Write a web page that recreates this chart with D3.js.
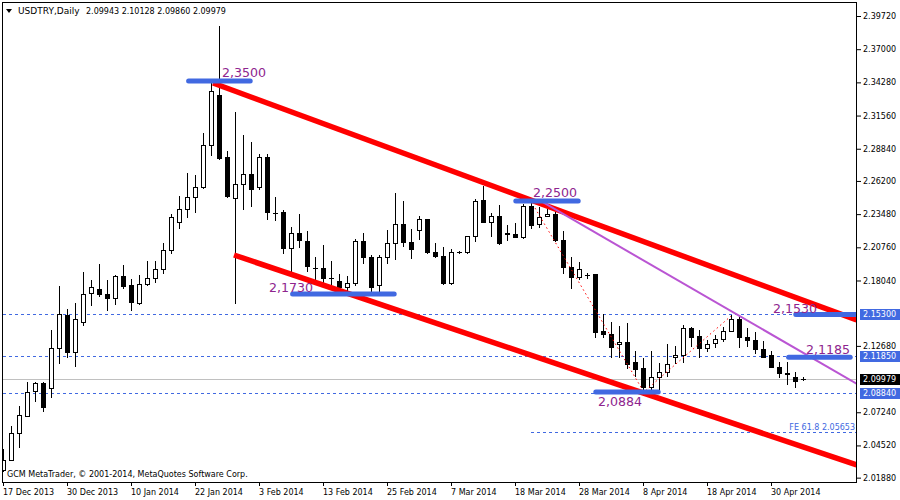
<!DOCTYPE html>
<html><head><meta charset="utf-8">
<script src="https://cdn.jsdelivr.net/npm/d3@7"></script>
<style>body{margin:0;background:#fff}svg{display:block;font-family:"DejaVu Sans",Verdana,sans-serif}</style>
</head><body><svg id="c" width="900" height="500"></svg>
<script>
// ---- data ----
const opens=[2.0254,2.0336,2.0557,2.0697,2.0902,2.0960,2.0919,2.1247,2.1518,2.1214,
2.1460,2.1698,2.1731,2.1690,2.1657,2.1838,2.1764,2.1616,2.1772,2.1821,
2.1895,2.2051,2.2281,2.2388,2.2486,2.2568,2.2913,2.3324,2.2815,2.2478,
2.2593,2.2675,2.2568,2.2815,2.2358,2.2363,2.2068,2.2191,2.2125,2.1906,
2.1904,2.1822,2.1797,2.1748,2.1780,2.2125,2.1994,2.1764,2.1994,2.2109,
2.2265,2.2117,2.2215,2.2306,2.2035,2.2002,2.1780,2.2035,2.2035,2.2166,
2.2462,2.2281,2.2330,2.2191,2.2183,2.2158,2.2412,2.2265,2.2330,2.2347,
2.2133,2.1912,2.1830,2.1846,2.1854,2.1387,2.1362,2.1280,2.1296,2.1132,
2.1083,2.0935,2.1017,2.1050,2.1173,2.1190,2.1411,2.1345,2.1247,2.1288,
2.1321,2.1387,2.1485,2.1337,2.1313,2.1239,2.1190,2.1099,2.1042,2.1009,
2.09943];
const highs=[2.0426,2.0615,2.0779,2.0968,2.0968,2.0968,2.1395,2.1756,2.1567,2.1616,
2.1871,2.1805,2.1936,2.1805,2.1846,2.1928,2.1813,2.1846,2.1961,2.1961,
2.2109,2.2347,2.2495,2.2683,2.2667,2.3012,2.3422,2.3890,2.2864,2.3184,
2.2995,2.2938,2.2839,2.2839,2.2486,2.2380,2.2240,2.2347,2.2207,2.1994,
2.2092,2.1961,2.1854,2.1838,2.2142,2.2191,2.2010,2.2010,2.2215,2.2519,
2.2453,2.2224,2.2330,2.2306,2.2109,2.2076,2.2060,2.2043,2.2166,2.2470,
2.2577,2.2355,2.2421,2.2257,2.2273,2.2429,2.2437,2.2404,2.2396,2.2363,
2.2207,2.1994,2.1953,2.1862,2.1854,2.1526,2.1460,2.1428,2.1452,2.1222,
2.1165,2.1222,2.1124,2.1280,2.1263,2.1436,2.1419,2.1395,2.1313,2.1354,
2.1419,2.1518,2.1502,2.1411,2.1378,2.1304,2.1230,2.1140,2.1132,2.1050,
2.10128];
const lows=[2.0246,2.0336,2.0443,2.0697,2.0820,2.0738,2.0845,2.1124,2.1173,2.1107,
2.1436,2.1600,2.1674,2.1559,2.1608,2.1739,2.1559,2.1608,2.1764,2.1789,
2.1862,2.2027,2.2232,2.2322,2.2363,2.2560,2.2831,2.2798,2.2486,2.1616,
2.2388,2.2412,2.2552,2.2306,2.2298,2.2027,2.1862,2.2076,2.1879,2.1805,
2.1789,2.1739,2.1723,2.1715,2.1764,2.1945,2.1707,2.1707,2.1945,2.1978,
2.2084,2.1986,2.2142,2.2027,2.1994,2.1772,2.1772,2.2027,2.2027,2.2125,
2.2281,2.2166,2.2101,2.2133,2.2158,2.2150,2.2232,2.2240,2.2330,2.2125,
2.1863,2.1739,2.1813,2.1821,2.1337,2.1337,2.1173,2.1181,2.1083,2.1025,
2.0866,2.0902,2.0902,2.1025,2.1124,2.1132,2.1263,2.1181,2.1222,2.1255,
2.1304,2.1387,2.1255,2.1263,2.1206,2.1173,2.1091,2.1017,2.0952,2.0927,
2.09860];
const closes=[2.0336,2.0557,2.0705,2.0894,2.0960,2.0763,2.1247,2.1526,2.1214,2.1485,
2.1690,2.1748,2.1690,2.1657,2.1838,2.1756,2.1624,2.1772,2.1821,2.1895,
2.2051,2.2322,2.2388,2.2486,2.2568,2.2913,2.3356,2.2806,2.2495,2.2593,
2.2675,2.2552,2.2815,2.2363,2.2355,2.2068,2.2191,2.2133,2.1920,2.1904,
2.1821,2.1821,2.1748,2.1780,2.2125,2.1994,2.1748,2.1994,2.2109,2.2265,
2.2117,2.2060,2.2306,2.2035,2.2002,2.1780,2.2035,2.2035,2.2166,2.2453,
2.2281,2.2330,2.2109,2.2183,2.2158,2.2412,2.2257,2.2322,2.2347,2.2133,
2.1912,2.1830,2.1895,2.1846,2.1378,2.1362,2.1255,2.1296,2.1116,2.1075,
2.0935,2.1009,2.1058,2.1116,2.1190,2.1411,2.1337,2.1247,2.1280,2.1321,
2.1387,2.1485,2.1337,2.1313,2.1239,2.1181,2.1099,2.1042,2.1034,2.0984,
2.09979];

const dateIdx=[0,8,16,24,32,40,48,56,64,72,80,88,96];
const dateLabels=["17 Dec 2013","30 Dec 2013","10 Jan 2014","22 Jan 2014","3 Feb 2014","13 Feb 2014",
"25 Feb 2014","7 Mar 2014","18 Mar 2014","28 Mar 2014","8 Apr 2014","18 Apr 2014","30 Apr 2014"];
const priceTicks=[2.3972,2.3700,2.3428,2.3156,2.2884,2.2620,2.2348,2.2076,2.1804,2.1268,2.0724,2.0452,2.0188];

const levelLines=[2.1530,2.1185,2.0884];          // dashed horizontal levels
const levelBoxes=[2.15300,2.11850,2.08840];
const currentPrice=2.09979;
const feLevel=2.05653, feStart=66;

// annotation segments: [i0, i1, price]
const supportSegs=[[23.2,30.9,2.3439],[36.2,48.9,2.1693],[64.1,71.9,2.2456],[99.1,106.8,2.1525],[98.2,105.9,2.1175],[74.1,81.9,2.0890]];
const supportLabels=["2,3500","2,1730","2,2500","2,1530","2,1185","2,0884"];
const labelIdx=[27.375,33.25,66.25,96.25,100.375,74.375];
const labelPrice=[2.3472,2.1710,2.2488,2.1538,2.1201,2.0775];

const channelUpper=[[26.25,2.3423],[106.7,2.1480]];
const channelLower=[[28.875,2.2013],[106.7,2.0292]];
const purpleLine=[[67,2.2464],[106.75,2.0956]];
const feDots=[[66.5,2.2398],[80.1,2.0890],[91,2.1513]];

// ---- scales ----
const svg=d3.select("#c");
const x=d3.scaleLinear().domain([0,100]).range([3,803]);
const y=d3.scaleLinear().domain([2.01523,2.40868]).range([482,2]);

svg.append("defs").append("clipPath").attr("id","clip")
  .append("rect").attr("x",3).attr("y",3).attr("width",853).attr("height",479);

const plot=svg.append("g").attr("clip-path","url(#clip)");

// level dashed lines
plot.selectAll(".lvl").data(levelLines).join("line")
  .attr("x1",3).attr("x2",856).attr("y1",d=>Math.round(y(d))+0.5).attr("y2",d=>Math.round(y(d))+0.5)
  .attr("stroke","#4169E1").attr("stroke-dasharray","3,3").attr("stroke-width",1);
// FE line
plot.append("line").attr("x1",x(feStart)).attr("x2",856)
  .attr("y1",Math.round(y(feLevel))+0.5).attr("y2",Math.round(y(feLevel))+0.5)
  .attr("stroke","#4169E1").attr("stroke-dasharray","3,3");
plot.append("text").attr("x",855).attr("y",y(feLevel)-2).attr("text-anchor","end")
  .attr("font-size",8).attr("fill","#4169E1").text("FE 61.8 "+feLevel.toFixed(5));
// current price line
plot.append("line").attr("x1",3).attr("x2",856)
  .attr("y1",Math.round(y(currentPrice))+0.5).attr("y2",Math.round(y(currentPrice))+0.5)
  .attr("stroke","#C0C0C0").attr("stroke-width",1);

// candles
const bars=opens.map((o,i)=>({i,o,h:highs[i],l:lows[i],c:closes[i]}));
const cg=plot.append("g");
cg.selectAll(".wick").data(bars).join("line")
  .attr("x1",d=>Math.round(x(d.i))+0.5).attr("x2",d=>Math.round(x(d.i))+0.5)
  .attr("y1",d=>Math.round(y(d.h))).attr("y2",d=>Math.round(y(d.l))+1)
  .attr("stroke","#000").attr("stroke-width",1);
cg.selectAll(".body").data(bars.filter(d=>Math.abs(Math.round(y(d.o))-Math.round(y(d.c)))>=1)).join("rect")
  .attr("x",d=>Math.round(x(d.i))-1.5)
  .attr("y",d=>Math.min(Math.round(y(d.o)),Math.round(y(d.c)))+0.5)
  .attr("width",4)
  .attr("height",d=>Math.abs(Math.round(y(d.o))-Math.round(y(d.c))))
  .attr("fill",d=>d.c>=d.o?"#fff":"#000").attr("stroke","#000").attr("stroke-width",1);
cg.selectAll(".doji").data(bars.filter(d=>Math.abs(Math.round(y(d.o))-Math.round(y(d.c)))<1)).join("line")
  .attr("x1",d=>Math.round(x(d.i))-2).attr("x2",d=>Math.round(x(d.i))+3)
  .attr("y1",d=>Math.round(y(d.c))+0.5).attr("y2",d=>Math.round(y(d.c))+0.5)
  .attr("stroke","#000");

// channel lines
const ln=d3.line().x(d=>x(d[0])).y(d=>y(d[1]));
[channelUpper,channelLower].forEach(p=>{
  plot.append("path").attr("d",ln(p)).attr("fill","none").attr("stroke","#FF0000").attr("stroke-width",5.5);
});
// purple trend line
plot.append("path").attr("d",ln(purpleLine)).attr("fill","none").attr("stroke","#BA55D3").attr("stroke-width",2);
// FE dotted
plot.append("path").attr("d",ln(feDots)).attr("fill","none").attr("stroke","#FF0000")
  .attr("stroke-width",1).attr("stroke-dasharray","1.5,3");

// support/resistance segments
plot.selectAll(".seg").data(supportSegs).join("line")
  .attr("x1",d=>x(d[0])).attr("x2",d=>x(d[1])).attr("y1",d=>y(d[2])).attr("y2",d=>y(d[2]))
  .attr("stroke","#4169E1").attr("stroke-width",5).attr("stroke-linecap","round");
plot.selectAll(".lab").data(supportLabels).join("text")
  .attr("x",(d,k)=>x(labelIdx[k])).attr("y",(d,k)=>y(labelPrice[k]))
  .attr("font-size",12.6).attr("fill","#8E248E").text(d=>d);

// frame
svg.append("rect").attr("x",2.5).attr("y",2.5).attr("width",854).attr("height",480)
  .attr("fill","none").attr("stroke","#000");

// right axis
const ya=svg.append("g").attr("transform","translate(857,0)")
  .call(d3.axisRight(y).tickValues(priceTicks).tickSize(4).tickPadding(2).tickFormat(d=>d.toFixed(5)));
ya.select(".domain").remove();
ya.selectAll("text").attr("font-size",8).attr("font-family","DejaVu Sans").attr("fill","#000");

// bottom axis
const xa=svg.append("g").attr("transform","translate(0,482)")
  .call(d3.axisBottom(x).tickValues(dateIdx).tickSize(4).tickFormat((d,k)=>dateLabels[k]));
xa.select(".domain").remove();
xa.selectAll("text").attr("font-size",8).attr("font-family","DejaVu Sans").attr("text-anchor","start")
  .attr("y",7.5).attr("x",-0.5).attr("fill","#000");

// price boxes
const boxes=levelBoxes.map(v=>({v,fill:"#4169E1"})).concat([{v:currentPrice,fill:"#000"}]);
const bg=svg.selectAll(".box").data(boxes).join("g");
bg.append("rect").attr("x",860).attr("y",d=>Math.round(y(d.v))-5).attr("width",40).attr("height",11).attr("fill",d=>d.fill);
bg.append("text").attr("x",863).attr("y",d=>Math.round(y(d.v))+0.5).attr("dy","0.35em")
  .attr("font-size",8).attr("fill","#fff").text(d=>d.v.toFixed(5));

// title
svg.append("path").attr("d","M6,9L12,9L9,13Z").attr("fill","#000");
svg.append("text").attr("x",18).attr("y",14).attr("font-size",9).attr("fill","#000").text("USDTRY,Daily");
svg.append("text").attr("x",86).attr("y",14).attr("font-size",8).attr("fill","#000")
  .text([opens[100],highs[100],lows[100],closes[100]].map(v=>v.toFixed(5)).join(" "));
svg.append("text").attr("x",7).attr("y",477).attr("font-size",8).attr("fill","#000")
  .text("GCM MetaTrader, \u00A9 2001-2014, MetaQuotes Software Corp.");
</script></body></html>
